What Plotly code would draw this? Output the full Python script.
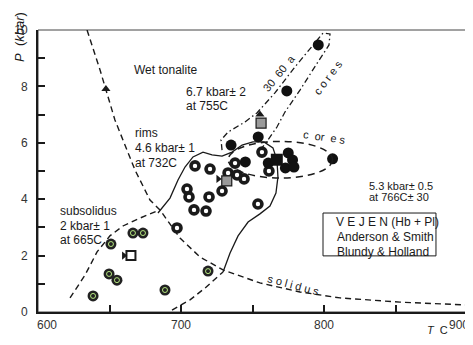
import plotly.graph_objects as go

FONT = "Arial, 'Liberation Sans', sans-serif"
INK = "#1a1a1a"

# ---------------- data (T in °C, P in kbar) ----------------
core_T = [796, 774, 754, 735, 745, 761, 775, 778, 773, 779, 806]
core_P = [9.47, 7.84, 6.21, 5.92, 5.32, 5.28, 5.64, 5.39, 5.11, 5.14, 5.43]

rim_T = [756.6, 737.8, 709.8, 720.3, 732.9, 739.2, 744.1, 728.7, 704.2, 705.6,
         719.6, 709.1, 717.5, 753.8, 697.2, 761.5]
rim_P = [5.67, 5.28, 5.18, 5.07, 4.93, 4.86, 4.72, 4.29, 4.36, 4.08,
         4.08, 3.62, 3.58, 3.83, 2.98, 5.00]

sub_T = [666.4, 673.4, 651.0, 649.7, 655.2, 638.5, 688.8, 718.9]
sub_P = [2.80, 2.80, 2.41, 1.35, 1.13, 0.57, 0.78, 1.45]

grey_sq_T = [756, 732]
grey_sq_P = [6.70, 4.65]
black_sq_T = [767]
black_sq_P = [5.40]
white_sq_T = [665]
white_sq_P = [2.00]

tri_right_T = [660, 726]
tri_right_P = [2.00, 4.72]
tri_up_T = [647.5, 755.2]
tri_up_P = [7.91, 7.00]

# wet tonalite solidus + solidus (dashed)
wet_T = [634.3, 643.4, 653.8, 667.8, 678.3, 685.3, 699.3, 713.3, 729.4, 755.2,
         783.2, 811.2, 853.1, 900]
wet_P = [10.0, 8.58, 6.81, 5.04, 3.97, 3.62, 2.62, 1.95, 1.49, 1.03,
         0.71, 0.50, 0.35, 0.25]
# subsolidus boundary (dashed)
subb_T = [622.4, 632.9, 641.3, 650.3, 659.4, 671.3, 683.2]
subb_P = [0.50, 1.31, 2.13, 2.70, 3.05, 3.33, 3.58]
# lower dashed branch
low_T = [693.7, 706.3, 716.8, 729.4]
low_P = [0.07, 0.43, 0.85, 1.42]
# rims field outline (solid)
rimf_T = [683.9, 692.3, 697.9, 702.8, 708.4, 715.4, 721.7, 728.7, 735.7, 742.7,
          750.3, 758.0, 764.3, 767.1, 767.8, 766.4, 762.2, 755.2, 746.9, 739.9,
          734.3, 729.4]
rimf_P = [3.51, 4.04, 4.68, 5.14, 5.50, 5.67, 5.57, 5.53, 5.67, 5.92,
          6.03, 6.03, 5.82, 5.39, 4.79, 4.22, 3.76, 3.48, 3.19, 2.70,
          2.09, 1.42]
# cores field outline (dash-dot)
cf_T = [728.7, 728.0, 732.9, 744.8, 753.1, 765.7, 779.7, 795.1, 799.3, 804.2,
        803.5, 795.8, 783.2, 772.7, 767.1, 760.8, 756.6]
cf_P = [5.74, 6.10, 6.38, 6.74, 7.06, 7.77, 8.69, 9.65, 9.89, 9.86,
        9.47, 8.87, 7.87, 7.09, 6.56, 6.10, 5.82]
# cores ellipse (dashed) bounds
ell_T = [733, 806]
ell_P = [4.75, 6.05]

x_tickvals = [600, 650, 700, 750, 800, 850, 900]
x_ticktext = ["600", "", "700", "", "800", "", "900"]
y_tickvals = [0, 1, 2, 3, 4, 5, 6, 7, 8, 9, 10]
y_ticktext = ["0", "", "2", "", "4", "", "6", "", "8", "", "10"]

# page has an 8px body margin; keep the page from overflowing (no scrollbar)
OFF = 8
W, H = 465, 329
ML, MR, MT, MB = 30, 6, 22, 25
PW, PH = W - ML - MR, H - MT - MB

def px(x):
    return (x - OFF - ML) / PW

def py(y):
    return 1 - (y - OFF - MT) / PH

fig = go.Figure()

def line(x, y, dash, width=1.4):
    fig.add_trace(go.Scatter(x=x, y=y, mode="lines", hoverinfo="skip",
                             line=dict(color=INK, width=width, dash=dash)))

line(wet_T, wet_P, "6px,4px", 1.4)
line(subb_T, subb_P, "6px,4px", 1.4)
line(low_T, low_P, "6px,4px", 1.4)
line(rimf_T, rimf_P, "solid", 1.3)
line(cf_T, cf_P, "6px,3px,1.5px,3px", 1.3)

fig.add_shape(type="circle", xref="x", yref="y",
              x0=ell_T[0], x1=ell_T[1], y0=ell_P[0], y1=ell_P[1],
              line=dict(color=INK, width=1.5, dash="7px,5px"))

# markers
fig.add_trace(go.Scatter(x=rim_T, y=rim_P, mode="markers", hoverinfo="skip",
                         marker=dict(symbol="circle", size=8, color="white",
                                     line=dict(color=INK, width=3.6))))
fig.add_trace(go.Scatter(x=sub_T, y=sub_P, mode="markers", hoverinfo="skip",
                         marker=dict(symbol="circle", size=11, color="#222",
                                     line=dict(width=0))))
fig.add_trace(go.Scatter(x=sub_T, y=sub_P, mode="markers", hoverinfo="skip",
                         marker=dict(symbol="circle-open", size=5,
                                     line=dict(color="#d8d8d8", width=1))))
fig.add_trace(go.Scatter(x=core_T, y=core_P, mode="markers", hoverinfo="skip",
                         marker=dict(symbol="circle", size=11, color="#111",
                                     line=dict(width=0))))
fig.add_trace(go.Scatter(x=grey_sq_T, y=grey_sq_P, mode="markers", hoverinfo="skip",
                         marker=dict(symbol="square", size=10, color="#9a9a9a",
                                     line=dict(color=INK, width=1.2))))
fig.add_trace(go.Scatter(x=black_sq_T, y=black_sq_P, mode="markers", hoverinfo="skip",
                         marker=dict(symbol="square", size=12, color="#111",
                                     line=dict(width=0))))
fig.add_trace(go.Scatter(x=white_sq_T, y=white_sq_P, mode="markers", hoverinfo="skip",
                         marker=dict(symbol="square", size=9, color="white",
                                     line=dict(color=INK, width=2))))
fig.add_trace(go.Scatter(x=tri_right_T, y=tri_right_P, mode="markers", hoverinfo="skip",
                         marker=dict(symbol="triangle-right", size=7, color=INK)))
fig.add_trace(go.Scatter(x=tri_up_T, y=tri_up_P, mode="markers", hoverinfo="skip",
                         marker=dict(symbol="triangle-up", size=8, color=INK)))

# text labels
def txt(x, y, s, size=12, angle=0, anchor="left", xref="x", yref="y", xshift=0):
    fig.add_annotation(x=x, y=y, xref=xref, yref=yref, text=s, showarrow=False,
                       xanchor=anchor, yanchor="middle", textangle=angle, xshift=xshift,
                       font=dict(family=FONT, size=size, color=INK))

txt(665.7, 8.58, "Wet tonalite")
txt(702.1, 7.80, "6.7 kbar± 2")
txt(702.1, 7.30, "at 755C")
txt(666.4, 6.35, "rims")
txt(666.4, 5.82, "4.6 kbar± 1")
txt(666.4, 5.28, "at 732C")
txt(614.0, 3.58, "subsolidus")
txt(614.0, 3.05, "2 kbar± 1")
txt(614.0, 2.55, "at 665C")
txt(830.0, 4.47, "5.3 kbar± 0.5", size=11)
txt(830.0, 4.07, "at 766C± 30", size=11)

txt(768.5, 8.48, "30  60  a", size=11, angle=-51, anchor="center")
txt(803.0, 8.33, "c o r e s", size=11, angle=-53, anchor="center")
txt(800.0, 6.20, "c  or  e s", size=11, angle=8, anchor="center")
txt(779.0, 0.96, "s o l i d u s", size=11, angle=15, anchor="center")

# legend box
fig.add_shape(type="rect", xref="x", yref="y", x0=799.3, x1=878.3, y0=1.99, y1=3.51,
              line=dict(color=INK, width=1), fillcolor="white")
txt(807.0, 3.19, "V E J E N (Hb + Pl)")
txt(807.7, 2.66, "Anderson & Smith")
txt(807.7, 2.13, "Blundy & Holland")

# x tick labels
xlab_style = {600: ("left", -3), 900: ("right", 4)}
for v, lab in zip(x_tickvals, x_ticktext):
    if lab:
        anc, sh = xlab_style.get(v, ("center", 0))
        fig.add_annotation(x=v, y=py(325), xref="x", yref="paper", text=lab,
                           showarrow=False, xanchor=anc, yanchor="middle",
                           xshift=sh,
                           font=dict(family=FONT, size=12, color="#333"))

# axis titles
fig.add_annotation(x=px(20), y=py(37), xref="paper", yref="paper",
                   text="<i>P</i>  (<i>kbar</i>)",
                   showarrow=False, textangle=-90, xanchor="center", yanchor="middle",
                   font=dict(family=FONT, size=13, color=INK))
fig.add_annotation(x=px(437), y=py(330), xref="paper", yref="paper", text="<i>T</i>  C",
                   showarrow=False, xanchor="center", yanchor="middle",
                   font=dict(family=FONT, size=11, color=INK))

# frame (top/right thin)
fig.add_shape(type="rect", xref="paper", yref="paper", x0=0, x1=1, y0=0, y1=1,
              line=dict(color="#444", width=1), layer="below")

fig.update_layout(
    width=W, height=H, margin=dict(l=ML, r=MR, t=MT, b=MB, pad=0),
    paper_bgcolor="white", plot_bgcolor="white", showlegend=False,
    font=dict(family=FONT, size=12, color=INK),
    xaxis=dict(range=[600, 900], tickvals=x_tickvals, showticklabels=False,
               ticks="inside", ticklen=7, tickwidth=1.5, tickcolor=INK,
               showline=True, linecolor=INK, linewidth=2, showgrid=False,
               zeroline=False),
    yaxis=dict(range=[0, 10], tickvals=y_tickvals, ticktext=y_ticktext,
               ticks="inside", ticklen=7, tickwidth=1.5, tickcolor=INK,
               showline=True, linecolor=INK, linewidth=2, showgrid=False,
               zeroline=False, tickfont=dict(size=12, family=FONT, color="#333"),
               ticklabelstandoff=6),
)

fig.write_html("out.html")
